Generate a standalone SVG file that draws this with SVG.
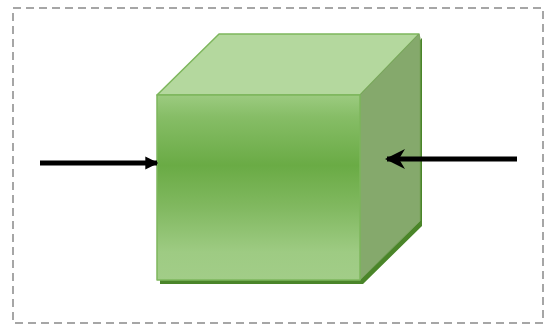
<svg xmlns="http://www.w3.org/2000/svg" width="552" height="327" viewBox="0 0 552 327">
  <style>
    .frame { fill: none; stroke: #a6a6a6; stroke-width: 2; stroke-dasharray: 8 5; }
    .edge { stroke: #7db65c; stroke-width: 1.5; stroke-linejoin: round; }
    .conn { stroke: #000; stroke-width: 5; fill: none; }
  </style>
  <defs>
    <linearGradient id="front" x1="0" y1="0" x2="0" y2="1">
      <stop offset="0" stop-color="#9ccb80"/>
      <stop offset="0.12" stop-color="#86bd66"/>
      <stop offset="0.38" stop-color="#6aab45"/>
      <stop offset="0.6" stop-color="#80b85f"/>
      <stop offset="0.85" stop-color="#9ecb83"/>
      <stop offset="1" stop-color="#a2cd88"/>
    </linearGradient>
    <marker id="headL" viewBox="0 0 10 10" refX="9" refY="5" markerWidth="2.6" markerHeight="3" orient="auto" markerUnits="strokeWidth">
      <path d="M0,0 L10,5 L0,10 z" fill="#000"/>
    </marker>
    <marker id="headR" viewBox="0 0 10 10" refX="9" refY="5" markerWidth="4" markerHeight="4" orient="auto" markerUnits="strokeWidth">
      <path d="M0,0 L10,5 L0,10 L3,5 z" fill="#000"/>
    </marker>
  </defs>
  <rect class="frame" x="13" y="8" width="530" height="315"/>
  <g id="cube">
    <polygon points="160,284 363,284 422,226 422,38 360,100 160,100" fill="#4a8529"/>
    <polygon id="top" class="edge" points="157,95 219,34 419,34 360,95" fill="#b4d89e"/>
    <polygon id="side" points="360,95 419,34 420,38 420,221 360,280" fill="#85a96c" stroke="#7aa35e" stroke-width="1"/>
    <rect id="front-face" class="edge" x="157" y="95" width="203" height="185" fill="url(#front)"/>
  </g>
  <g id="connectors">
    <line class="conn" x1="40" y1="163" x2="157" y2="163" marker-end="url(#headL)"/>
    <line class="conn" x1="517" y1="159" x2="387" y2="159" marker-end="url(#headR)"/>
  </g>
</svg>
